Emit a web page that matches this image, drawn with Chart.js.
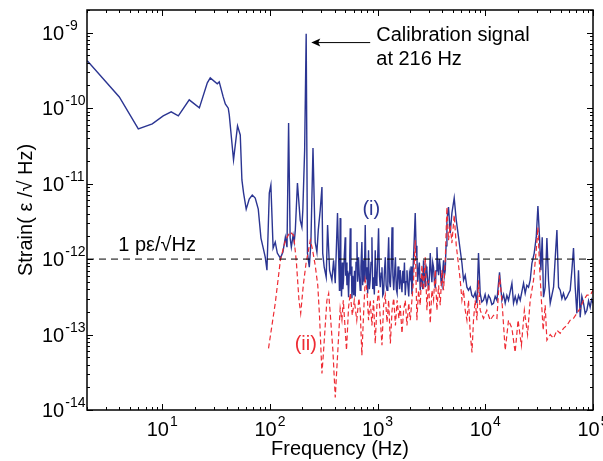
<!DOCTYPE html>
<html>
<head>
<meta charset="utf-8">
<script src="https://cdn.jsdelivr.net/npm/chart.js@4.4.1/dist/chart.umd.min.js"></script>
<style>
  html, body { margin: 0; padding: 0; background: #fff; }
  #wrap { width: 603px; height: 461px; }
</style>
</head>
<body>
<div id="wrap"><canvas id="strainChart" width="603" height="461"></canvas></div>
<script>
// (i) blue trace
const blueFreq = [
  2.01, 3.99, 5.99, 8.08, 10.2, 12.1, 14.1, 17.8, 22.1, 26.2,
  27.9, 32.4, 33.8, 36.8, 38.5, 41.0, 41.9, 45.9, 50.0, 53.0,
  54.9, 56.9, 60.2, 64.2, 68.5, 73.0, 77.9, 82.5, 86.6, 90.4,
  93.8, 98.6, 102, 107, 112, 117, 125, 132, 139, 144,
  149, 154, 158, 164, 168, 172, 180, 191, 198, 202,
  210, 217, 223, 232, 240, 251, 263, 273, 281, 293,
  304, 309, 319, 333, 343, 358, 376, 390, 404, 424,
  442, 446, 449, 455, 462, 470, 476, 482, 490, 500,
  505, 512, 519, 527, 537, 545, 551, 557, 565, 571,
  577, 588, 600, 610, 620, 630, 643, 652, 665, 676,
  689, 700, 714, 726, 740, 752, 767, 780, 796, 808,
  823, 838, 853, 868, 885, 900, 916, 932, 950, 967,
  985, 1002, 1020, 1040, 1058, 1077, 1097, 1116, 1136, 1157,
  1178, 1200, 1222, 1244, 1266, 1290, 1313, 1337, 1361, 1386,
  1411, 1437, 1463, 1490, 1517, 1546, 1575, 1598, 1622, 1652,
  1683, 1713, 1743, 1774, 1805, 1838, 1872, 1908, 1945, 1977,
  2009, 2045, 2082, 2118, 2155, 2194, 2234, 2274, 2315, 2356,
  2397, 2440, 2486, 2532, 2578, 2622, 2668, 2717, 2767, 2818,
  2869, 2920, 2972, 3026, 3080, 3135, 3191, 3248, 3305, 3366,
  3427, 3490, 3553, 3617, 3682, 3748, 3814, 3884, 3954, 4025,
  4096, 4170, 4246, 4320, 4400, 4552, 4721, 4894, 5141, 5370,
  5640, 5848, 6067, 6280, 6506, 6745, 6982, 7244, 7500, 7766, 8050, 8356,
  8645, 8960, 9280, 9614, 9960, 10330, 10700, 11090, 11500, 11910, 12350, 12820, 13550, 14260, 14780, 15300,
  15850, 16420, 17660, 18280, 18950, 19640, 20350, 21090, 22650, 23460, 24300, 25180, 26110, 27080,
  28450, 29710, 30790, 31860, 32820, 33750, 34690, 35970, 37310, 38620,
  40070, 41540, 43030, 44610, 46230, 47880, 49590, 51400, 53200, 55200, 57250, 59300, 61410,
  63680, 65920, 68350, 70850, 73330, 76030, 78800, 81610, 84600, 87760, 90900, 94130, 97000, 100000
];
const blueStrain = [
  4.25e-10, 1.41e-10, 5.31e-11, 6.19e-11, 7.91e-11, 8.93e-11, 7.91e-11, 1.29e-10, 1.01e-10, 2.17e-10,
  2.52e-10, 2.1e-10, 2.23e-10, 1.41e-10, 1.14e-10, 1.0e-10, 8.15e-11, 2.06e-11, 5.82e-11, 4.42e-11,
  1.12e-11, 7.5e-12, 4.6e-12, 6.25e-12, 7.06e-12, 6.44e-12, 4.6e-12, 1.9e-12, 1.4e-12, 1.06e-12,
  7.13e-13, 7.5e-12, 9.57e-12, 1.4e-12, 1.68e-12, 1.2e-12, 1.03e-12, 1.24e-12, 1.95e-12, 1.44e-12,
  6.38e-11, 1.9e-12, 1.44e-12, 2.07e-12, 1.68e-12, 2.42e-12, 1.02e-11, 3.29e-12, 2.65e-12, 4.46e-12,
  2.79e-11, 9.7e-10, 1.2e-12, 7.8e-13, 1.63e-12, 2.97e-11, 1.68e-12, 1.24e-12, 2.42e-12, 4.46e-12,
  9.0e-12, 1.2e-12, 7.8e-13, 5.75e-13, 2.82e-12, 7.13e-13, 5.25e-13, 9.66e-13, 4.79e-13, 4.07e-12,
  3.87e-13, 1.2e-12, 3.49e-12, 8e-13, 3.2e-13, 9e-13, 4e-13, 5.25e-13, 1.1e-12, 1.95e-12,
  6e-13, 9e-13, 4.5e-13, 7e-13, 3.12e-13, 6.5e-13, 1.1e-12, 2.57e-12, 6e-13, 8e-13,
  3.03e-13, 6e-13, 3.32e-13, 7e-13, 3.2e-13, 9e-13, 1.68e-12, 5e-13, 1.06e-12, 6e-13,
  3.87e-13, 8e-13, 1.68e-12, 4.5e-13, 9.66e-13, 5e-13, 2.82e-12, 5.5e-13, 7.8e-13, 3.5e-13,
  1.31e-12, 4e-13, 5.25e-13, 9e-13, 1.95e-12, 4e-13, 5.75e-13, 3.4e-13, 1.31e-12, 4.5e-13,
  5.25e-13, 1.1e-12, 2.57e-12, 6e-13, 4.24e-13, 6.5e-13, 7.8e-13, 3.3e-13, 3.52e-13, 7e-13,
  1.06e-12, 4.5e-13, 3.87e-13, 9e-13, 1.95e-12, 5e-13, 4.24e-13, 8e-13, 2.65e-12, 6e-13,
  3.87e-13, 6.5e-13, 1.06e-12, 4e-13, 3.52e-13, 8e-13, 6.1e-13, 4e-13, 7.13e-13, 5e-13,
  3.63e-13, 7e-13, 4.79e-13, 9e-13, 3.32e-13, 5e-13, 7.13e-13, 4.5e-13, 3.2e-13, 6.5e-13,
  5.75e-13, 8e-13, 3.42e-13, 6e-13, 1.06e-12, 2e-12, 4.07e-12, 1.5e-12, 1.06e-12, 5e-13,
  7.13e-13, 9e-13, 3.87e-13, 5.5e-13, 6.5e-13, 4e-13, 9.66e-13, 6e-13, 4.24e-13, 8e-13,
  7.13e-13, 5e-13, 3.87e-13, 6e-13, 1.2e-12, 7e-13, 4.93e-13, 9e-13, 7.8e-13, 5e-13,
  4.11e-13, 7e-13, 1.44e-12, 8e-13, 6.1e-13, 1e-12, 7.8e-13, 5e-13, 4.5e-13, 7e-13,
  9.66e-13, 6e-13, 7.13e-13, 1.5e-12, 3.29e-12, 4.89e-12, 2.21e-12, 4.07e-12, 6.44e-12, 3.29e-12,
  1.95e-12, 1.31e-12, 8.8e-13, 5.25e-13, 6.1e-13, 4.24e-13, 3.87e-13, 4.24e-13, 3.3e-13, 3.12e-13, 3.6e-13, 2.6e-13,
  1.2e-12, 3.52e-13, 2.7e-13, 2.85e-13, 3.4e-13, 2.6e-13, 3.3e-13, 3.03e-13, 2.5e-13, 2.6e-13, 3.2e-13, 2.85e-13, 6.7e-13, 2.85e-13, 3.4e-13, 2.6e-13,
  3.3e-13, 2.85e-13, 4.79e-13, 2.6e-13, 3.2e-13, 2.6e-13, 3.3e-13, 2.85e-13, 4.79e-13, 3.52e-13, 4.5e-13, 4.24e-13, 5.25e-13, 8.8e-13,
  1.2e-12, 1.95e-12, 5.05e-12, 1.95e-12, 7.13e-13, 1.95e-12, 3.12e-13, 4.24e-13, 1.9e-12, 5.25e-13,
  2.6e-13, 3.32e-13, 4.24e-13, 1.06e-12, 2.42e-12, 4.24e-13, 3.87e-13, 3e-13, 3.52e-13, 2.9e-13, 3.12e-13, 3.5e-13, 3.87e-13,
  7.13e-13, 1.4e-12, 4.24e-13, 1.91e-13, 7.13e-13, 1.69e-13, 3.2e-13, 2.6e-13, 1.9e-13, 2.1e-13, 2.8e-13, 2.3e-13, 2.9e-13, 2.6e-13
];

// (ii) red dashed trace
const redFreq = [
  97, 112, 125, 139, 154, 166, 176, 186, 193, 204,
  217, 228, 237, 247, 263, 278, 289, 304, 315, 338,
  351, 363, 384, 404, 422, 449, 466, 480, 514, 537,
  557, 582, 607, 640, 670, 689, 714, 743, 767, 796,
  823, 853, 885, 916, 950, 985, 1020, 1058, 1097, 1136,
  1178, 1222, 1266, 1313, 1361, 1411, 1463, 1517, 1575, 1622,
  1683, 1743, 1805, 1872, 1945, 2009, 2082, 2155, 2234, 2315,
  2397, 2486, 2578, 2668, 2767, 2869, 2972, 3080, 3191, 3305,
  3427, 3553, 3682, 3814, 3954, 4096, 4246, 4400, 4552, 4721,
  4894, 5141, 5370, 5640, 5848, 6067, 6280, 6506, 6745, 6982,
  7244, 7520, 7766, 8054, 8356, 8645, 8960, 9614, 10330, 11090,
  11910, 12820, 13550, 14260, 15300, 16420, 17660, 18920, 20150, 21630,
  23040, 24680, 26110, 28040, 29710, 30790, 31860, 33180, 34440, 35970,
  37310, 40070, 43030, 46230, 49590, 53200, 57250, 61410, 65920, 70850,
  76030, 81610, 87760, 94130, 100000
];
const redStrain = [
  6.56e-14, 2.6e-13, 9.66e-13, 1.78e-12, 2.28e-12, 2.07e-12, 9.1e-13, 2.85e-13, 1.91e-13, 4.5e-13,
  9.1e-13, 1.31e-12, 1.78e-12, 1.4e-12, 8.3e-13, 4.5e-13, 1.69e-13, 3.05e-14, 6.2e-14, 2.85e-13,
  3.52e-13, 1.91e-13, 6.2e-14, 1.47e-14, 4.55e-14, 2.23e-13, 1.55e-13, 2.85e-13, 6.2e-14, 2.3e-13,
  3.52e-13, 1.8e-13, 2.85e-13, 1.55e-13, 3.03e-13, 2.1e-13, 5.3e-14, 2.1e-13, 5.25e-13, 3.87e-13,
  1.55e-13, 2.85e-13, 1.32e-13, 2.85e-13, 7.6e-14, 2.44e-13, 3.87e-13, 1.64e-13, 7.2e-14, 2.44e-13,
  3.32e-13, 1.45e-13, 2.85e-13, 7.6e-14, 2.1e-13, 3.03e-13, 1.32e-13, 2.85e-13, 1.64e-13, 2.44e-13,
  1.04e-13, 2.1e-13, 2.85e-13, 1.32e-13, 2.6e-13, 1.55e-13, 2.85e-13, 5.25e-13, 1.78e-12, 1.55e-13,
  3.87e-13, 2.44e-13, 8.3e-13, 3.87e-13, 1.06e-12, 2.1e-13, 5.25e-13, 1.41e-13, 3.87e-13, 2.85e-13,
  7.13e-13, 2.1e-13, 4.5e-13, 2.44e-13, 7.13e-13, 3.87e-13, 9.66e-13, 4.89e-12, 1.78e-12, 2.82e-12,
  1.63e-12, 3.83e-12, 1.53e-12, 8.3e-13, 5.25e-13, 2.85e-13, 3.87e-13, 2.1e-13, 1.55e-13, 2.85e-13,
  1.04e-13, 5.8e-14, 1.55e-13, 2.85e-13, 1.55e-13, 5.25e-13, 2.1e-13, 1.64e-13, 2.1e-13, 1.55e-13,
  1.8e-13, 1.64e-13, 6.1e-13, 2.85e-13, 6.2e-14, 1.55e-13, 1.21e-13, 5.8e-14, 1.55e-13, 7.2e-14,
  2.1e-13, 1.0e-13, 2.85e-13, 5.25e-13, 1.31e-12, 2.65e-12, 8.3e-13, 2.85e-13, 1.14e-13, 2.44e-13,
  8.4e-14, 1.0e-13, 8.9e-14, 1.14e-13, 1.04e-13, 1.21e-13, 1.32e-13, 1.55e-13, 1.64e-13, 1.91e-13,
  2.23e-13, 2.85e-13, 3.32e-13, 3.32e-13, 3.87e-13
];

const refLevel = 1e-12;           // 1 pε/√Hz line
const xRange = [2, 1e5];
const yRange = [1e-14, 2e-9];
const xTickExps = [1, 2, 3, 4, 5];
const yTickExps = [-14, -13, -12, -11, -10, -9];

const FONT = '"Liberation Sans", Arial, Helvetica, sans-serif';
const BLUE = '#2b3592';
const RED = '#ee2b33';

function toPoints(xs, ys) {
  return xs.map((x, i) => ({ x: x, y: ys[i] }));
}

// "10" with a raised exponent
function drawPow(ctx, exp, x, y, align) {
  const base = '10', sup = String(exp);
  ctx.font = '20px ' + FONT;
  const wb = ctx.measureText(base).width;
  ctx.font = '14px ' + FONT;
  const ws = ctx.measureText(sup).width;
  const left = align === 'center' ? x - (wb + ws + 1) / 2 : x;
  ctx.textAlign = 'left';
  ctx.textBaseline = 'alphabetic';
  ctx.font = '20px ' + FONT;
  ctx.fillText(base, left, y);
  ctx.font = '14px ' + FONT;
  ctx.fillText(sup, left + wb + 1, y - 10);
}

const frameAndLabels = {
  id: 'frameAndLabels',
  afterDraw(chart) {
    const ctx = chart.ctx;
    const area = chart.chartArea;
    const xs = chart.scales.x;
    const ys = chart.scales.y;
    ctx.save();
    ctx.strokeStyle = '#000';
    ctx.fillStyle = '#000';

    // box
    ctx.lineWidth = 1.5;
    ctx.strokeRect(area.left, area.top, area.right - area.left, area.bottom - area.top);

    // inward ticks, all four sides
    ctx.lineWidth = 1;
    ctx.beginPath();
    for (let d = 0; d <= 5; d++) {
      for (let m = 1; m <= 9; m++) {
        const v = m * Math.pow(10, d);
        if (v < xRange[0] || v > xRange[1]) continue;
        const px = Math.round(xs.getPixelForValue(v)) + 0.5;
        const len = m === 1 ? 6 : 3;
        ctx.moveTo(px, area.bottom); ctx.lineTo(px, area.bottom - len);
        ctx.moveTo(px, area.top); ctx.lineTo(px, area.top + len);
      }
    }
    for (let d = -14; d <= -9; d++) {
      for (let m = 1; m <= 9; m++) {
        const v = m * Math.pow(10, d);
        if (v < yRange[0] * 0.999 || v > yRange[1] * 1.001) continue;
        const py = Math.round(ys.getPixelForValue(v)) + 0.5;
        const len = m === 1 ? 6 : 3;
        ctx.moveTo(area.left, py); ctx.lineTo(area.left + len, py);
        ctx.moveTo(area.right, py); ctx.lineTo(area.right - len, py);
      }
    }
    ctx.stroke();

    // tick labels
    xTickExps.forEach(e => {
      drawPow(ctx, e, xs.getPixelForValue(Math.pow(10, e)), area.bottom + 26, 'center');
    });
    yTickExps.forEach(e => {
      drawPow(ctx, e, area.left - 45, ys.getPixelForValue(Math.pow(10, e)) + 7, 'left');
    });

    // annotations
    ctx.font = '20px ' + FONT;
    ctx.textAlign = 'left';
    ctx.textBaseline = 'alphabetic';
    ctx.fillText('Calibration signal', xs.getPixelForValue(971), ys.getPixelForValue(7.7e-10));
    ctx.fillText('at 216 Hz', xs.getPixelForValue(971), ys.getPixelForValue(3.7e-10));
    ctx.fillText('1 p\u03b5/\u221aHz', xs.getPixelForValue(3.9), ys.getPixelForValue(1.27e-12));

    // arrow to the 216 Hz line
    const ay = ys.getPixelForValue(7.4e-10);
    const tipX = xs.getPixelForValue(242);
    const tailX = xs.getPixelForValue(853);
    ctx.lineWidth = 1;
    ctx.beginPath();
    ctx.moveTo(tailX, ay);
    ctx.lineTo(tipX + 6, ay);
    ctx.stroke();
    ctx.beginPath();
    ctx.moveTo(tipX, ay);
    ctx.lineTo(tipX + 9, ay - 4);
    ctx.lineTo(tipX + 7, ay);
    ctx.lineTo(tipX + 9, ay + 4);
    ctx.closePath();
    ctx.fill();

    ctx.textAlign = 'center';
    ctx.textBaseline = 'middle';
    ctx.fillStyle = BLUE;
    ctx.fillText('(i)', xs.getPixelForValue(873), ys.getPixelForValue(4.6e-12));
    ctx.fillStyle = RED;
    ctx.fillText('(ii)', xs.getPixelForValue(215), ys.getPixelForValue(7.4e-14));
    ctx.restore();
  }
};

const ctx = document.getElementById('strainChart').getContext('2d');
new Chart(ctx, {
  type: 'line',
  data: {
    datasets: [
      {
        label: 'ref',
        data: [{ x: xRange[0], y: refLevel }, { x: xRange[1], y: refLevel }],
        borderColor: '#000',
        borderWidth: 1,
        borderDash: [7, 5],
        order: 0
      },
      {
        label: '(ii)',
        data: toPoints(redFreq, redStrain),
        borderColor: RED,
        borderWidth: 1.2,
        borderDash: [5, 3],
        order: 1
      },
      {
        label: '(i)',
        data: toPoints(blueFreq, blueStrain),
        borderColor: BLUE,
        borderWidth: 1.4,
        order: 2
      }
    ]
  },
  options: {
    responsive: false,
    animation: false,
    devicePixelRatio: 1,
    layout: { padding: { top: 10, right: 10, left: 0, bottom: 0 } },
    elements: { point: { radius: 0 }, line: { tension: 0, fill: false } },
    plugins: { legend: { display: false }, tooltip: { enabled: false } },
    scales: {
      x: {
        type: 'logarithmic',
        min: xRange[0],
        max: xRange[1],
        grid: { display: false, drawTicks: false },
        border: { display: false },
        ticks: { display: false },
        title: {
          display: true, text: 'Frequency (Hz)', color: '#000',
          font: { family: FONT, size: 20 }, padding: { top: 0, bottom: 0 }
        },
        afterFit(scale) { scale.height = 51; }
      },
      y: {
        type: 'logarithmic',
        min: yRange[0],
        max: yRange[1],
        grid: { display: false, drawTicks: false },
        border: { display: false },
        ticks: { display: false },
        title: {
          display: true, text: 'Strain( \u03b5 /\u221a Hz)', color: '#000',
          font: { family: FONT, size: 20 }, padding: { top: 14, bottom: 0 }
        },
        afterFit(scale) { scale.width = 87; }
      }
    }
  },
  plugins: [frameAndLabels]
});
</script>
</body>
</html>
